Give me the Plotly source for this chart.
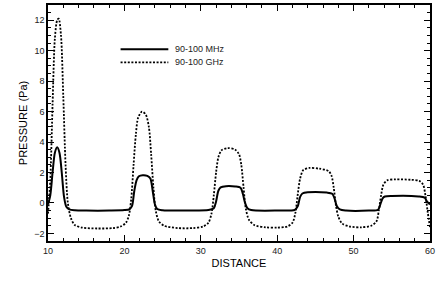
import plotly.graph_objects as go

# Data
mhz_x = [10.0, 10.3, 10.6, 10.9, 11.2, 11.5, 11.8, 12.1, 12.4, 12.8, 13.5, 15.0, 18.0, 20.0,
         20.7, 21.0, 21.3, 21.6, 21.9, 22.4, 23.0, 23.4, 23.7, 24.0, 24.3, 25.0, 28.0, 31.0,
         31.7, 32.0, 32.3, 32.6, 33.3, 34.5, 35.2, 35.5, 35.8, 36.1, 36.6, 40.0, 42.3,
         42.7, 43.0, 43.3, 44.0, 46.5, 47.2, 47.5, 47.8, 48.2, 49.0, 52.0, 53.2,
         53.5, 53.8, 54.1, 55.0, 58.5, 59.3, 59.6, 60.0]
mhz_y = [-0.1, 0.5, 2.0, 3.3, 3.65, 3.3, 2.0, 0.4, -0.25, -0.42, -0.48, -0.5, -0.5, -0.47,
         -0.4, -0.2, 0.8, 1.5, 1.75, 1.82, 1.78, 1.6, 0.8, -0.1, -0.4, -0.48, -0.5, -0.47,
         -0.35, 0.1, 0.8, 1.02, 1.1, 1.08, 1.0, 0.6, 0.0, -0.35, -0.47, -0.5, -0.45,
         -0.2, 0.4, 0.62, 0.7, 0.68, 0.6, 0.3, -0.2, -0.43, -0.5, -0.5, -0.45,
         -0.1, 0.3, 0.42, 0.46, 0.43, 0.35, 0.1, -0.1]

ghz_x = [10.0, 10.3, 10.6, 10.9, 11.2, 11.4, 11.7, 12.0, 12.3, 12.6, 13.0, 13.5, 14.5, 16.5,
         18.5, 19.5, 20.2, 20.6, 20.9, 21.2, 21.5, 21.8, 22.3, 22.8, 23.2, 23.5, 23.8, 24.1,
         24.5, 25.2, 27.0, 29.0, 30.3, 31.0, 31.4, 31.7, 32.0, 32.3, 32.7, 33.5, 34.5, 35.0,
         35.3, 35.6, 35.9, 36.3, 37.0, 38.5, 40.0, 41.3, 42.0, 42.4, 42.7, 43.0, 43.4, 44.2,
         45.5, 46.7, 47.1, 47.4, 47.7, 48.0, 48.5, 49.5, 51.0, 52.3, 53.0, 53.3, 53.6, 53.9,
         54.4, 55.5, 57.5, 58.6, 59.1, 59.4, 59.7, 60.0]
ghz_y = [-0.7, 1.5, 6.5, 10.8, 12.0, 12.1, 11.0, 7.0, 2.5, 0.0, -1.0, -1.45, -1.62, -1.68,
         -1.65, -1.55, -1.3, -0.8, 0.3, 2.5, 4.5, 5.6, 6.0, 5.8, 5.0, 3.2, 1.0, -0.5,
         -1.2, -1.5, -1.65, -1.65, -1.55, -1.3, -0.7, 0.5, 2.0, 3.0, 3.45, 3.6, 3.5, 3.2,
         2.5, 1.0, -0.4, -1.1, -1.45, -1.6, -1.62, -1.55, -1.3, -0.6, 0.6, 1.6, 2.15, 2.3,
         2.25, 2.1, 1.8, 1.0, -0.2, -0.9, -1.35, -1.55, -1.6, -1.5, -1.2, -0.5, 0.5, 1.2,
         1.48, 1.55, 1.52, 1.45, 1.2, 0.5, -0.6, -1.6]

x_ticks = [10, 20, 30, 40, 50, 60]
y_ticks = [-2, 0, 2, 4, 6, 8, 10, 12]
series_names = ["90-100 MHz", "90-100 GHz"]

solid_line = dict(color="black", width=2)
dotted_line = dict(color="black", width=1.8, dash="2px,1.6px")

fig = go.Figure()
fig.add_trace(go.Scatter(x=mhz_x, y=mhz_y, mode="lines", name=series_names[0],
                         line=dict(**solid_line, shape="spline", smoothing=0.8)))
fig.add_trace(go.Scatter(x=ghz_x, y=ghz_y, mode="lines", name=series_names[1],
                         line=dict(**dotted_line, shape="spline", smoothing=0.8)))

font = "Liberation Sans, Arial, sans-serif"
axis_common = dict(showline=True, linecolor="black", linewidth=1.5, mirror="allticks",
                   ticks="inside", ticklen=6, tickwidth=1.2, tickcolor="black",
                   showgrid=False, zeroline=False, automargin=False,
                   tickfont=dict(family=font, size=9, color="#222"))

fig.update_xaxes(range=[10, 60], tickvals=x_ticks,
                 minor=dict(dtick=2, tick0=10, ticks="inside", ticklen=3, tickcolor="black",
                            tickwidth=1),
                 title=dict(text="DISTANCE", font=dict(family=font, size=11, color="black"),
                            standoff=5),
                 **axis_common)
fig.update_yaxes(range=[-2.5, 13], tickvals=y_ticks,
                 minor=dict(dtick=0.5, tick0=0, ticks="inside", ticklen=3, tickcolor="black",
                            tickwidth=1),
                 title=dict(text="PRESSURE (Pa)", font=dict(family=font, size=11, color="black"),
                            standoff=4),
                 **axis_common)

# Manual legend (compact, as in the reference)
leg_x0, leg_x1, leg_tx = 0.19, 0.315, 0.328
leg_rows = [0.812, 0.757]
for name, ln, yy in zip(series_names, [solid_line, dotted_line], leg_rows):
    fig.add_shape(type="line", xref="paper", yref="paper", x0=leg_x0, x1=leg_x1,
                  y0=yy, y1=yy, line=ln)
    fig.add_annotation(xref="paper", yref="paper", x=leg_tx, y=yy, text=name,
                       showarrow=False, xanchor="left", yanchor="middle",
                       font=dict(family=font, size=9, color="#222"))

fig.update_layout(
    width=436, height=288,
    margin=dict(l=48, r=6, t=5, b=47),
    paper_bgcolor="white", plot_bgcolor="white",
    showlegend=False,
)

fig.write_html("out.html",
               config={"displayModeBar": False},
               post_script="document.body.style.margin='0';document.body.style.padding='0';")
